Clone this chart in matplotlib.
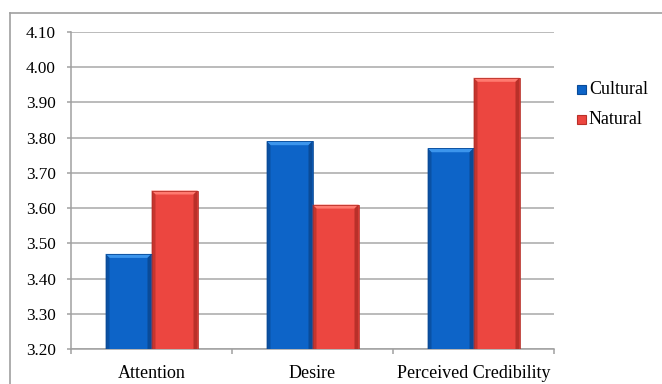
import matplotlib
matplotlib.use("Agg")
import matplotlib.pyplot as plt
from matplotlib.patches import Rectangle, Polygon
from matplotlib.lines import Line2D
import numpy as np

categories = ["Attention", "Desire", "Perceived Credibility"]
series_names = ["Cultural", "Natural"]
cultural = [3.47, 3.79, 3.77]
natural = [3.65, 3.61, 3.97]
yticks = [3.20, 3.30, 3.40, 3.50, 3.60, 3.70, 3.80, 3.90, 4.00, 4.10]

face = {"Cultural": "#0d64c8", "Natural": "#ec4640"}
light = {"Cultural": "#3c95ec", "Natural": "#ff7a70"}
dark = {"Cultural": "#0a4b98", "Natural": "#b93029"}

plt.rcParams["font.family"] = "serif"
plt.rcParams["font.serif"] = ["Liberation Serif", "DejaVu Serif"]

W, H = 662, 384
fig = plt.figure(figsize=(W / 100, H / 100), dpi=100)

# outer chart frame (left and top edges visible)
fig.add_artist(Line2D([10 / W, 10 / W], [0, 1 - 13 / H], transform=fig.transFigure,
                      color="#a0a0a0", lw=1.2))
fig.add_artist(Line2D([10 / W, 1], [1 - 13 / H, 1 - 13 / H], transform=fig.transFigure,
                      color="#a0a0a0", lw=1.2))

left, right, top, bottom = 71, 554, 32, 349
ax = fig.add_axes([left / W, 1 - bottom / H, (right - left) / W, (bottom - top) / H])
ax.set_xlim(0, 3)
ax.set_ylim(3.2, 4.1)

px_x = 3 / (right - left)
px_y = 0.9 / (bottom - top)

bw = 46 * px_x
x = np.arange(len(categories)) + 0.5


def bevel_bar(x0, val, name):
    y0 = 3.2
    w = bw
    h = val - y0
    ax.add_patch(Rectangle((x0, y0), w, h, facecolor=face[name], edgecolor="none", zorder=3))
    b = 4 * px_x
    bt = 4 * px_y
    # top bevel
    ax.add_patch(Polygon([(x0, val), (x0 + w, val), (x0 + w - b, val - bt), (x0 + b, val - bt)],
                         closed=True, facecolor=light[name], edgecolor="none", zorder=4))
    # left bevel
    ax.add_patch(Polygon([(x0, y0), (x0, val), (x0 + b, val - bt), (x0 + b, y0)],
                         closed=True, facecolor=dark[name], edgecolor="none", zorder=4, alpha=0.75))
    # right bevel
    ax.add_patch(Polygon([(x0 + w, y0), (x0 + w, val), (x0 + w - b, val - bt), (x0 + w - b, y0)],
                         closed=True, facecolor=dark[name], edgecolor="none", zorder=4))
    ax.add_patch(Rectangle((x0, y0), w, h, facecolor="none", edgecolor=dark[name],
                           lw=0.6, zorder=5))


for xi, c, n in zip(x, cultural, natural):
    bevel_bar(xi - bw, c, "Cultural")
    bevel_bar(xi, n, "Natural")

ax.set_yticks(yticks)
ax.set_yticklabels([f"{v:.2f}" for v in yticks], fontsize=12.3)
ax.yaxis.grid(True, color="#a8a8a8", lw=1.1, zorder=0)
ax.set_axisbelow(True)

ax.set_xticks([0, 1, 2, 3])
ax.set_xticklabels([])
ax.set_xticks(x, minor=True)
ax.set_xticklabels(categories, minor=True, fontsize=13)
ax.tick_params(axis="x", which="major", length=3.6, color="#a0a0a0", width=1.1)
ax.tick_params(axis="x", which="minor", length=0, pad=11.5)
ax.tick_params(axis="y", length=3, color="#a0a0a0", width=1.1, pad=8)

for s in ["top", "right"]:
    ax.spines[s].set_visible(False)
for s in ["left", "bottom"]:
    ax.spines[s].set_color("#a0a0a0")
    ax.spines[s].set_linewidth(1.1)

# legend
for i, name in enumerate(series_names):
    yc = 1 - (89 + 30 * i) / H
    fig.add_artist(Rectangle((577 / W, yc - 4.5 / H), 9 / W, 9 / H, transform=fig.transFigure,
                             facecolor=face[name], edgecolor=dark[name], lw=0.8))
    fig.text(589 / W, yc, name, fontsize=13, va="center", ha="left")

fig.savefig("out.png", dpi=100)
